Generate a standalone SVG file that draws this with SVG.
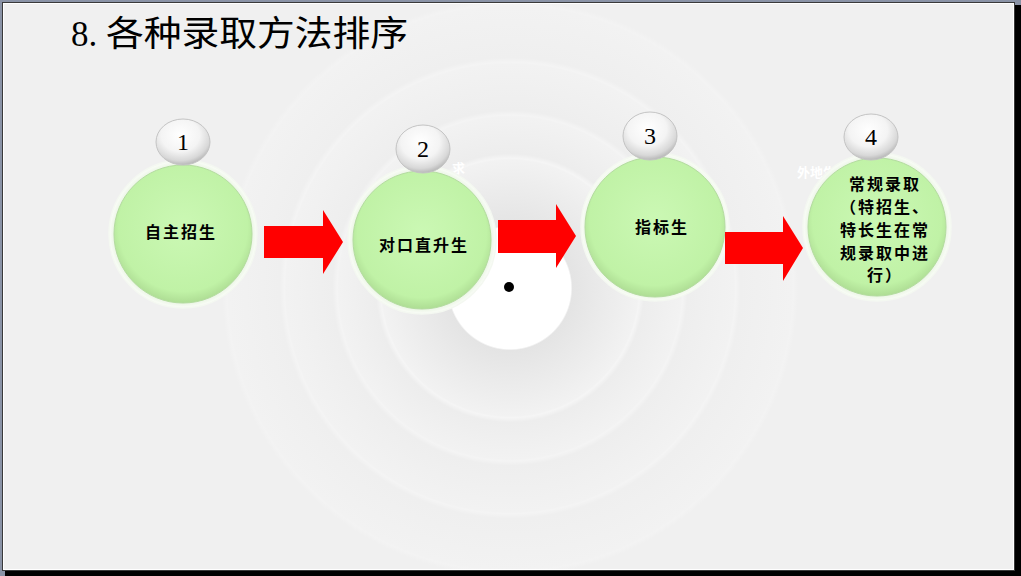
<svg xmlns="http://www.w3.org/2000/svg" width="1021" height="576" viewBox="0 0 1021 576">
<defs>
<radialGradient id="bgRings" gradientUnits="userSpaceOnUse" cx="510" cy="288" r="320">
<stop offset="0" stop-color="#ffffff"/>
<stop offset="0.19" stop-color="#ffffff"/>
<stop offset="0.195" stop-color="#e4e4e4"/>
<stop offset="0.28" stop-color="#eaeaea"/>
<stop offset="0.40" stop-color="#f2f2f2"/>
<stop offset="0.405" stop-color="#f5f5f5"/>
<stop offset="0.42" stop-color="#ededed"/>
<stop offset="0.535" stop-color="#f2f2f2"/>
<stop offset="0.54" stop-color="#f4f4f4"/>
<stop offset="0.555" stop-color="#eeeeee"/>
<stop offset="0.70" stop-color="#f2f2f2"/>
<stop offset="0.705" stop-color="#f4f4f4"/>
<stop offset="0.72" stop-color="#efefef"/>
<stop offset="0.88" stop-color="#f2f2f2"/>
<stop offset="0.885" stop-color="#f3f3f3"/>
<stop offset="0.90" stop-color="#f0f0f0"/>
<stop offset="1" stop-color="#f0f0f0"/>
</radialGradient>
<radialGradient id="greenFill" cx="0.5" cy="0.45" r="0.55">
<stop offset="0" stop-color="#cbf8b4"/>
<stop offset="0.85" stop-color="#c0f2a6"/>
<stop offset="1" stop-color="#aedd94"/>
</radialGradient>
<radialGradient id="ringFill" cx="0.5" cy="0.5" r="0.5">
<stop offset="0.9" stop-color="#e4f2dc"/>
<stop offset="1" stop-color="#fbfdf9"/>
</radialGradient>
<radialGradient id="badgeFill" cx="0.45" cy="0.35" r="0.65">
<stop offset="0" stop-color="#ffffff"/>
<stop offset="0.55" stop-color="#f4f4f4"/>
<stop offset="0.85" stop-color="#d8d8d8"/>
<stop offset="1" stop-color="#b8b8b8"/>
</radialGradient>
<style>
.ring{fill:url(#ringFill);stroke:#f4f8f1;stroke-width:1.5}
.disc{fill:url(#greenFill);stroke:#b4dca0;stroke-width:1}
.badge{fill:url(#badgeFill);stroke:#c4c4c4;stroke-width:1}
.num{font-family:"Liberation Serif","Noto Sans CJK SC",serif;font-size:24px;fill:#000;text-anchor:middle}
.lbl{font-family:"Noto Sans CJK SC","Noto Sans CJK JP",sans-serif;font-weight:bold;font-size:16px;letter-spacing:2px;fill:#000;text-anchor:middle}
.ghost{font-family:"Noto Sans CJK SC",sans-serif;font-weight:bold;font-size:13px;fill:#ffffff}
.arrow{fill:#ff0000}
</style>
</defs>

<!-- frame -->
<rect x="0" y="0" width="1021" height="576" fill="#8a93a6"/>
<rect x="5" y="5" width="1016" height="571" fill="#000000"/>
<rect x="2.5" y="2.5" width="1012" height="568" fill="#f0f0f0" stroke="#3a3a3a" stroke-width="1"/>
<rect x="3.5" y="3.5" width="1010" height="566" fill="url(#bgRings)" stroke="#ffffff" stroke-width="1"/>

<!-- center dot -->
<circle cx="509" cy="287" r="5" fill="#000000"/>

<!-- faint background texts -->
<text class="ghost" x="797" y="177">外地生</text>
<text class="ghost" x="452" y="173" font-size="11px">求</text>

<g id="node1">
<circle class="ring" cx="183" cy="234" r="74"/>
<circle class="disc" cx="183" cy="234" r="69"/>
<ellipse class="badge" cx="183" cy="142" rx="27" ry="23"/>
<text class="num" x="183" y="150">1</text>
<text class="lbl" x="181" y="238">自主招生</text>
</g>

<g id="node2">
<circle class="ring" cx="422" cy="240" r="74"/>
<circle class="disc" cx="422" cy="240" r="69"/>
<ellipse class="badge" cx="423" cy="149" rx="27" ry="24"/>
<text class="num" x="423" y="157">2</text>
<text class="lbl" x="424" y="251">对口直升生</text>
</g>

<g id="node3">
<circle class="ring" cx="655" cy="227" r="74"/>
<circle class="disc" cx="655" cy="227" r="70"/>
<ellipse class="badge" cx="650" cy="136" rx="27" ry="24"/>
<text class="num" x="650" y="144">3</text>
<text class="lbl" x="662" y="233">指标生</text>
</g>

<g id="node4">
<circle class="ring" cx="877" cy="227" r="74"/>
<circle class="disc" cx="877" cy="227" r="69"/>
<ellipse class="badge" cx="871" cy="137" rx="27" ry="23"/>
<text class="num" x="871" y="145">4</text>
<text class="lbl" x="885" y="190">常规录取</text>
<text class="lbl" x="885" y="213">（特招生、</text>
<text class="lbl" x="885" y="236">特长生在常</text>
<text class="lbl" x="885" y="259">规录取中进</text>
<text class="lbl" x="885" y="281">行）</text>
</g>

<g id="connectors">
<polygon class="arrow" points="264,226 323,226 323,210 343,242 323,274 323,258 264,258"/>
<polygon class="arrow" points="498,220 556,220 556,204 576,236 556,268 556,253 498,253"/>
<polygon class="arrow" points="725,232 783,232 783,216 803,248 783,281 783,264 725,264"/>
</g>

<!-- title -->
<text font-family="Liberation Serif,'Noto Sans CJK SC',serif" font-size="35" fill="#000000"><tspan x="71" y="46">8.</tspan><tspan x="106" y="46" textLength="302" lengthAdjust="spacingAndGlyphs">各种录取方法排序</tspan></text>
</svg>
